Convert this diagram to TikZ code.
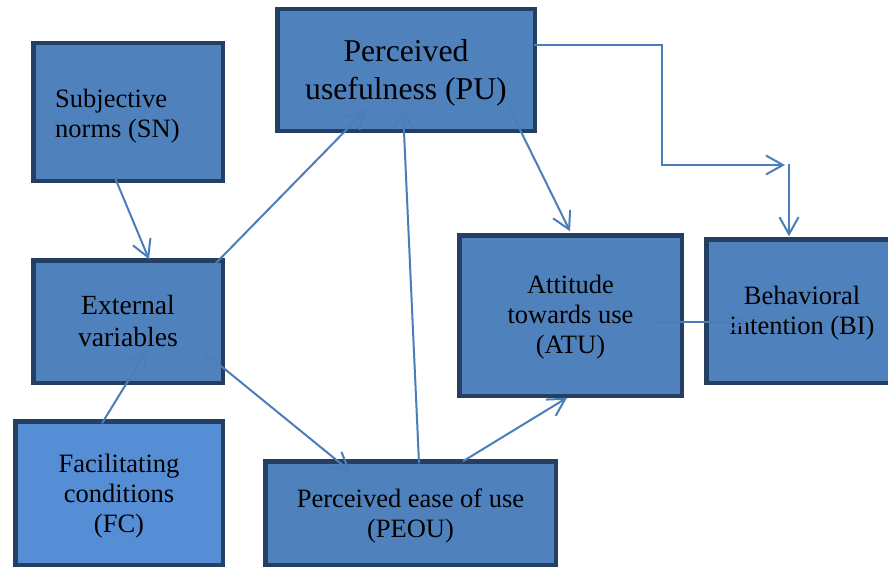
\documentclass[tikz,border=0pt]{standalone}
\usepackage{fontspec}
\setmainfont{Liberation Serif}
\usetikzlibrary{arrows.meta,calc}
\definecolor{boxfill}{HTML}{4F81BD}
\definecolor{fcfill}{HTML}{558ED5}
\definecolor{boxborder}{HTML}{253F62}
\definecolor{linecol}{HTML}{4A7EBB}
\tikzset{
  box/.style={draw=boxborder, line width=4.5pt, fill=boxfill, rectangle, inner sep=0pt, outer sep=0pt},
  lbl/.style={font=\fontsize{26.5}{30}\selectfont, align=center, inner sep=0pt, anchor=base},
  conn/.style={draw=linecol, line width=2pt, -{Straight Barb[length=17pt,width=19pt]}},
  plain/.style={draw=linecol, line width=2pt}
}
\begin{document}
\begin{tikzpicture}[x=1pt,y=-1pt]
\clip (0,0) rectangle (888,567);
\fill[white] (0,0) rectangle (888,567);
% boxes (outer extents measured in px)
\node[box, minimum width=189.5pt, minimum height=137.5pt] (sn) at (128,112) {};
\node[box, minimum width=257.5pt, minimum height=121.5pt] (pu) at (406,70) {};
\node[box, minimum width=189.5pt, minimum height=122.5pt] (ev) at (128,321.5) {};
\node[box, fill=fcfill, minimum width=207.5pt, minimum height=143.5pt] (fc) at (119,493) {};
\node[box, minimum width=290.5pt, minimum height=103.5pt] (peou) at (410.5,513) {};
\node[box, minimum width=222.5pt, minimum height=160.5pt] (atu) at (570.5,315.5) {};
\node[box, minimum width=196.5pt, minimum height=143.5pt] (bi) at (804.5,311) {};
% labels (anchored at the baseline of the last line)
\node[lbl, anchor=base west, align=left] (snt) at (55,137) {Subjective\\norms (SN)};
\node[lbl, font=\fontsize{31.7}{38}\selectfont] (put) at (406,100) {Perceived\\usefulness (PU)};
\node[lbl, font=\fontsize{27.7}{32.7}\selectfont] (evt) at (128,346.7) {External\\variables};
\node[lbl] (fct) at (119,532) {Facilitating\\conditions\\(FC)};
\node[lbl] (peout) at (410.5,537) {Perceived ease of use\\(PEOU)};
\node[lbl] (atut) at (570.5,353) {Attitude\\towards use\\(ATU)};
\node[lbl] (bit) at (802,334) {Behavioral\\intention (BI)};
% connectors
\draw[conn] ($(sn.south)+(-13,-3)$) -- ($(ev.north)+(21,-1)$);
\draw[conn] ($(fc.north)+(-17,2)$) -- ($(ev.center)+(19,28.5)$);
\draw[conn] ($(ev.north east)+(-7,3)$) -- ($(pu.south)+(-40,-21)$);
\draw[conn] ($(ev.center)+(77,31.5)$) -- ($(peou.north west)+(85,10)$);
\draw[conn] ($(peou.north)+(8.5,2)$) -- ($(pu.south)+(-3,-21)$);
\draw[conn] ($(peou.north)+(52.5,0)$) -- ($(atu.south)+(-3.5,2)$);
\draw[conn] ($(pu.south east)+(-27,-26)$) -- ($(atu.north)+(-0.5,-4)$);
\coordinate (j1) at (662,165);
\coordinate (j2) at (785,165);
\draw[conn] ($(pu.east)+(-1,-25)$) -| (j1) -- (j2);
\draw[conn] ($(j2)+(4,-1)$) -- ($(bi.north)+(-15.5,-3)$);
\draw[conn] ($(atu.center)+(85.5,6.5)$) -- ($(bi.west)+(41,11)$);
\end{tikzpicture}
\end{document}
